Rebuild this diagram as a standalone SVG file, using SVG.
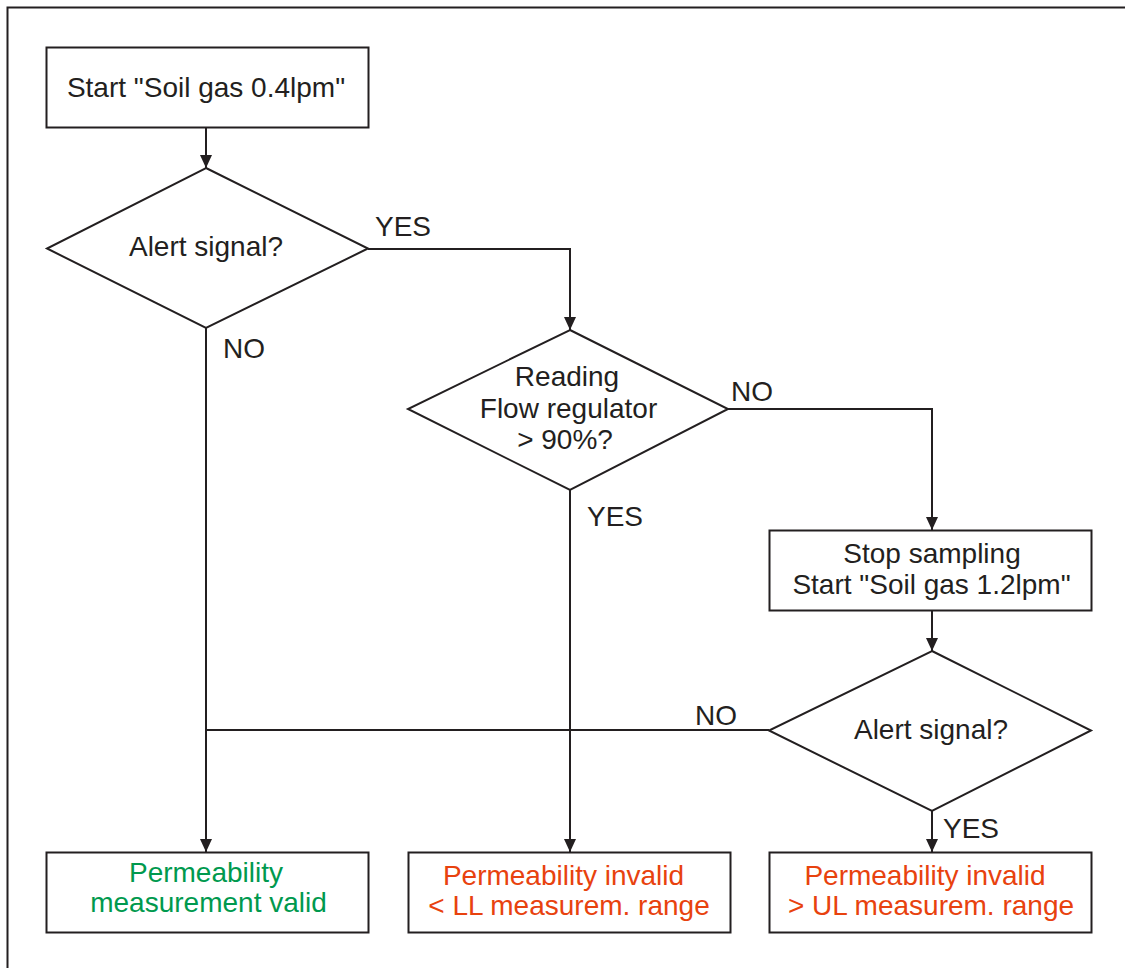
<svg xmlns="http://www.w3.org/2000/svg" width="1125" height="968" viewBox="0 0 1125 968">
<style>
.shape{fill:#ffffff;stroke:#231f20;stroke-width:2}
.line{fill:none;stroke:#231f20;stroke-width:2}
text{font-family:"Liberation Sans",Arial,sans-serif;font-size:28px;fill:#231f20}
.c{text-anchor:middle}
.green{fill:#00994e}
.red{fill:#e8420e}
</style>
<defs>
<marker id="arr" viewBox="0 0 13 13" markerWidth="13" markerHeight="13" refX="13" refY="6.5" orient="auto" markerUnits="userSpaceOnUse">
<path d="M0,0.5 L13,6.5 L0,12.5 Z" fill="#231f20"/>
</marker>
</defs>
<rect x="0" y="0" width="1125" height="968" fill="#ffffff"/>
<rect id="frame" x="7.5" y="7.5" width="1130" height="980" fill="none" stroke="#231f20" stroke-width="2"/>
<g id="connectors">
<line class="line" x1="206" y1="127" x2="206" y2="168" marker-end="url(#arr)"/>
<polyline class="line" points="368,249 570,249 570,330" marker-end="url(#arr)"/>
<line class="line" x1="206" y1="328" x2="206" y2="852" marker-end="url(#arr)"/>
<polyline class="line" points="728,409 932,409 932,530" marker-end="url(#arr)"/>
<line class="line" x1="570" y1="490" x2="570" y2="852" marker-end="url(#arr)"/>
<line class="line" x1="932" y1="610" x2="932" y2="651" marker-end="url(#arr)"/>
<line class="line" x1="769" y1="730" x2="206" y2="730"/>
<line class="line" x1="932" y1="811" x2="932" y2="852" marker-end="url(#arr)"/>
<text x="375" y="236">YES</text>
<text x="223" y="358">NO</text>
<text x="731" y="401">NO</text>
<text x="587" y="526">YES</text>
<text x="695" y="725">NO</text>
<text x="943" y="838">YES</text>
</g>
<g id="start1">
<rect class="shape" x="46.5" y="47.5" width="322" height="80"/>
<text class="c" x="206" y="97">Start "Soil gas 0.4lpm"</text>
</g>
<g id="alert1">
<polygon class="shape" points="206,168 368,248.5 206,328 47,248.5"/>
<text class="c" x="206" y="256">Alert signal?</text>
</g>
<g id="flowreg">
<polygon class="shape" points="570,330 728,409 570,490 408,409"/>
<text class="c" x="567" y="386">Reading</text>
<text class="c" x="568.5" y="418">Flow regulator</text>
<text class="c" x="565" y="449">&gt; 90%?</text>
</g>
<g id="stop">
<rect class="shape" x="769.5" y="530.5" width="322" height="80"/>
<text class="c" x="932" y="563">Stop sampling</text>
<text class="c" x="931.5" y="594">Start "Soil gas 1.2lpm"</text>
</g>
<g id="alert2">
<polygon class="shape" points="932,651 1091,730.5 932,811 769,730.5"/>
<text class="c" x="931" y="739">Alert signal?</text>
</g>
<g id="valid">
<rect class="shape" x="46.5" y="852.5" width="322" height="80"/>
<text class="c green" x="206" y="882">Permeability</text>
<text class="c green" x="208.5" y="912">measurement valid</text>
</g>
<g id="invalidLL">
<rect class="shape" x="408.5" y="852.5" width="322" height="80"/>
<text class="c red" x="563.5" y="885">Permeability invalid</text>
<text class="c red" x="569" y="915">&lt; LL measurem. range</text>
</g>
<g id="invalidUL">
<rect class="shape" x="769.5" y="852.5" width="322" height="80"/>
<text class="c red" x="925" y="885">Permeability invalid</text>
<text class="c red" x="931" y="915">&gt; UL measurem. range</text>
</g>
</svg>
